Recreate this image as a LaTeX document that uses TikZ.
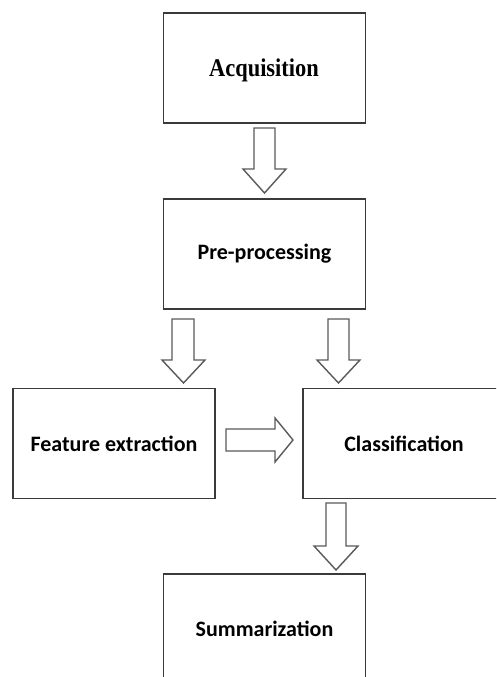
\documentclass[tikz,border=0pt]{standalone}
\usepackage{fontspec}
\setmainfont{Carlito}
\newfontfamily\acqfont[FakeStretch=0.88]{Liberation Serif}
\definecolor{boxline}{HTML}{3A3A3A}
\definecolor{arrline}{HTML}{5A5A5A}
\tikzset{
  stagebox/.style={draw=boxline, line width=1.8pt, fill=white, rectangle,
    minimum width=202pt, minimum height=110pt, inner sep=0pt,
    font=\fontsize{22pt}{26pt}\selectfont\bfseries},
  blockarrow/.style={draw=arrline, line width=1.4pt, fill=white, line join=miter}
}
\begin{document}
\begin{tikzpicture}[x=1pt,y=-1pt]
\useasboundingbox (0,0) rectangle (496,677);
\clip (0,0) rectangle (496,677);
\fill[white] (0,0) rectangle (496,677);

\node[stagebox, font=\acqfont\fontsize{25.5pt}{28pt}\selectfont\bfseries] (acq) at (264.5,68) {};
\node[font=\acqfont\fontsize{25.5pt}{28pt}\selectfont\bfseries, inner sep=0pt] (acqtext) at (264,70) {Acquisition};
\node[stagebox] (pre) at (264.5,254) {Pre-processing};
\node[stagebox] (feat) at (114,443.5) {Feature extraction};
\node[stagebox] (cls) at (404,443.5) {Classification};
\node[stagebox] (sum) at (264.5,629) {Summarization};

% acq -> pre
\draw[blockarrow] (254,128) -- (275,128) -- (275,169) -- (286,169) -- (264.5,193)
  -- (243,169) -- (254,169) -- cycle;
% pre -> feat
\draw[blockarrow] (172,319) -- (194,319) -- (194,360) -- (205,360) -- (183.5,383)
  -- (162,360) -- (172,360) -- cycle;
% pre -> cls
\draw[blockarrow] (328,319) -- (349,319) -- (349,360) -- (360,360) -- (338.5,383)
  -- (317,360) -- (328,360) -- cycle;
% feat -> cls
\draw[blockarrow] (226,429) -- (275,429) -- (275,418) -- (293,440) -- (275,462)
  -- (275,451) -- (226,451) -- cycle;
% cls -> sum
\draw[blockarrow] (326,503) -- (346,503) -- (346,546) -- (358,546) -- (336,570)
  -- (314,546) -- (326,546) -- cycle;
\end{tikzpicture}
\end{document}
